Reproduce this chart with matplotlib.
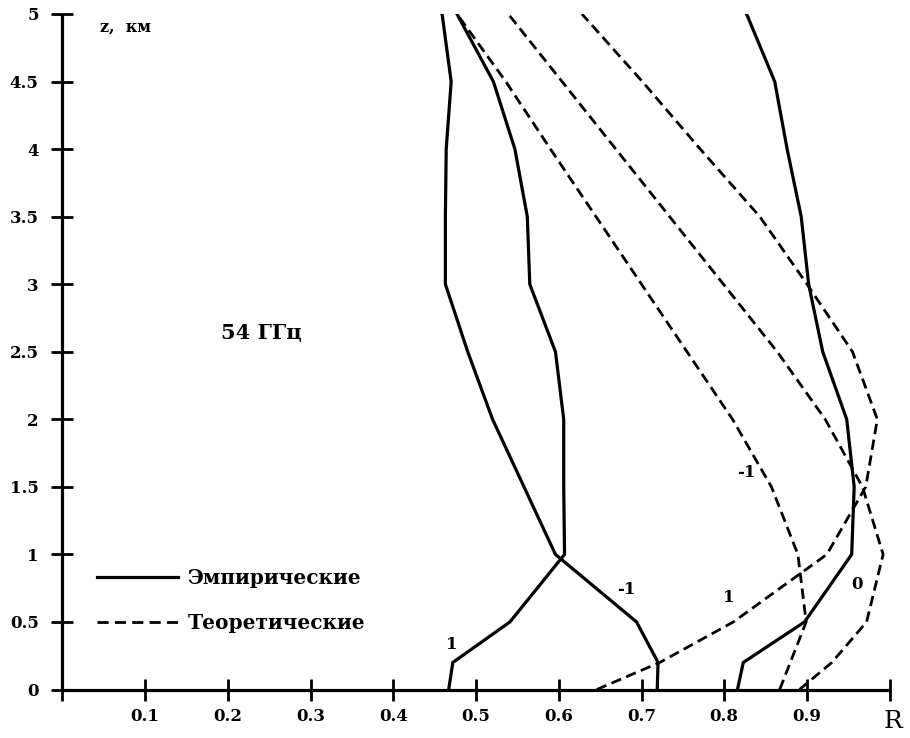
import matplotlib
matplotlib.use("Agg")
import matplotlib.pyplot as plt
import numpy as np

# ---- data ----
# Empirical (solid) curves
z_emp_m1 = [0.0, 0.2, 0.5, 1.0, 1.5, 2.0, 2.5, 3.0, 3.5, 4.0, 4.5, 5.0]
R_emp_m1 = [0.719, 0.720, 0.694, 0.596, 0.558, 0.520, 0.490, 0.463, 0.463, 0.464, 0.470, 0.459]

z_emp_p1 = [0.0, 0.2, 0.5, 1.0, 1.5, 2.0, 2.5, 3.0, 3.5, 4.0, 4.5, 5.0]
R_emp_p1 = [0.467, 0.472, 0.541, 0.607, 0.606, 0.606, 0.596, 0.565, 0.562, 0.547, 0.521, 0.477]

z_emp_0 = [0.0, 0.2, 0.5, 1.0, 1.5, 2.0, 2.5, 3.0, 3.5, 4.0, 4.5, 5.0]
R_emp_0 = [0.816, 0.823, 0.897, 0.954, 0.957, 0.948, 0.919, 0.902, 0.893, 0.876, 0.861, 0.827]

# Theoretical (dashed) curves
z_th_m1 = [0.0, 0.5, 1.0, 1.5, 2.0, 2.5, 3.0, 3.5, 4.0, 4.5, 5.0]
R_th_m1 = [0.867, 0.899, 0.889, 0.857, 0.810, 0.755, 0.700, 0.645, 0.590, 0.536, 0.477]

z_th_0 = [0.0, 0.2, 0.5, 1.0, 1.5, 2.0, 2.5, 3.0, 3.5, 4.0, 4.5, 5.0]
R_th_0 = [0.891, 0.930, 0.972, 0.992, 0.967, 0.922, 0.864, 0.799, 0.734, 0.669, 0.604, 0.539]

z_th_p1 = [0.0, 0.2, 0.5, 1.0, 1.5, 2.0, 2.5, 3.0, 3.5, 4.0, 4.5, 5.0]
R_th_p1 = [0.646, 0.722, 0.811, 0.924, 0.971, 0.985, 0.955, 0.900, 0.843, 0.771, 0.701, 0.628]

x_ticks = [0.0, 0.1, 0.2, 0.3, 0.4, 0.5, 0.6, 0.7, 0.8, 0.9, 1.0]
x_tick_labels = ["", "0.1", "0.2", "0.3", "0.4", "0.5", "0.6", "0.7", "0.8", "0.9", ""]
y_ticks = [0, 0.5, 1, 1.5, 2, 2.5, 3, 3.5, 4, 4.5, 5]
y_tick_labels = ["0", "0.5", "1", "1.5", "2", "2.5", "3", "3.5", "4", "4.5", "5"]

legend_labels = ["Эмпирические", "Теоретические"]
freq_label = "54 ГГц"

# ---- style ----
plt.rcParams["font.family"] = ["DejaVu Serif", "DejaVu Sans"]
plt.rcParams["font.weight"] = "bold"
plt.rcParams["lines.scale_dashes"] = False

W, H = 910, 738
fig = plt.figure(figsize=(W / 100, H / 100), dpi=100)
ax = fig.add_axes([62.25 / W, (H - 689.5) / H, 827.5 / W, 675.5 / H])

lw_s = 2.3
lw_d = 2.0
dash = (7.5, 4.0)

ax.plot(R_emp_m1, z_emp_m1, color="black", lw=lw_s, solid_joinstyle="miter")
ax.plot(R_emp_p1, z_emp_p1, color="black", lw=lw_s, solid_joinstyle="miter")
ax.plot(R_emp_0, z_emp_0, color="black", lw=lw_s, solid_joinstyle="miter")
ax.plot(R_th_m1, z_th_m1, color="black", lw=lw_d, linestyle=(0, dash))
ax.plot(R_th_0, z_th_0, color="black", lw=lw_d, linestyle=(0, dash))
ax.plot(R_th_p1, z_th_p1, color="black", lw=lw_d, linestyle=(0, dash))

ax.set_xlim(0, 1.0)
ax.set_ylim(0, 5)
ax.spines["top"].set_visible(False)
ax.spines["right"].set_visible(False)
for s in ("left", "bottom"):
    ax.spines[s].set_linewidth(2.3)
    ax.spines[s].set_capstyle("butt")

ax.set_xticks(x_ticks)
ax.set_xticklabels(x_tick_labels)
ax.set_yticks(y_ticks)
ax.set_yticklabels(y_tick_labels)
ax.tick_params(axis="both", direction="inout", length=16, width=2.0,
               labelsize=12, colors="black")
ax.tick_params(axis="x", pad=5)
ax.tick_params(axis="y", pad=9)
for lab in ax.get_xticklabels() + ax.get_yticklabels():
    lab.set_fontweight("bold")

# labels
ax.text(0.077, 4.90, "z,  км", fontsize=11.5, fontweight="bold", ha="center", va="center")
fig.text(893 / W, (H - 722) / H, "R", fontsize=18, fontweight="normal", ha="center", va="center")
ax.text(0.241, 2.64, freq_label, fontsize=15, fontweight="bold", ha="center", va="center")

# curve labels
ax.text(0.471, 0.333, "1", fontsize=12, fontweight="bold", ha="center", va="center")
ax.text(0.682, 0.740, "-1", fontsize=12, fontweight="bold", ha="center", va="center")
ax.text(0.805, 0.680, "1", fontsize=12, fontweight="bold", ha="center", va="center")
ax.text(0.960, 0.777, "0", fontsize=12, fontweight="bold", ha="center", va="center")
ax.text(0.827, 1.605, "-1", fontsize=12, fontweight="bold", ha="center", va="center")

# legend
from matplotlib.lines import Line2D
handles = [Line2D([], [], color="black", lw=lw_s),
           Line2D([], [], color="black", lw=lw_d, linestyle=(0, (8.0, 4.5)))]
leg = fig.legend(handles, legend_labels, loc="center left",
                 bbox_to_anchor=(97 / W, (H - 600.5) / H),
                 frameon=False, handlelength=4.0,
                 handletextpad=0.5, labelspacing=1.2, borderpad=0, borderaxespad=0,
                 prop={"weight": "bold", "size": 14.5})

fig.savefig("out.png", dpi=100)
